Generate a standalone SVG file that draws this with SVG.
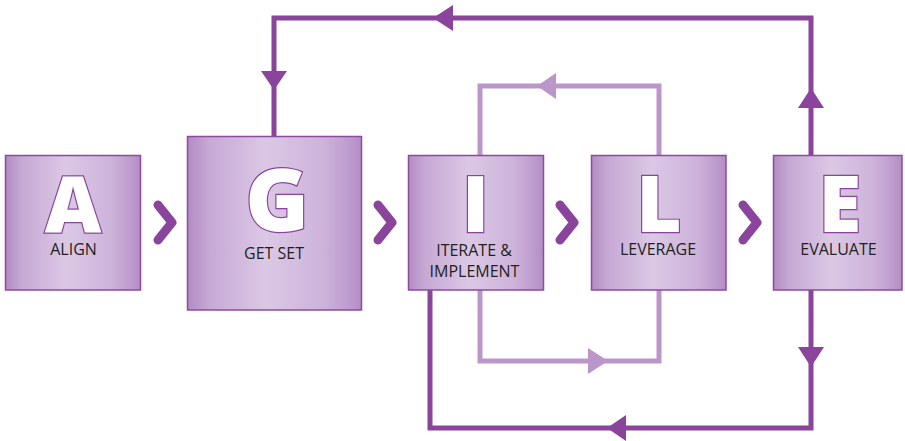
<svg xmlns="http://www.w3.org/2000/svg" width="905" height="441" viewBox="0 0 905 441">
  <defs>
    <linearGradient id="boxFill" x1="0" y1="0" x2="1" y2="0">
      <stop offset="0" stop-color="#b28bc3"/>
      <stop offset="0.12" stop-color="#c6a8d4"/>
      <stop offset="0.45" stop-color="#dbc8e5"/>
      <stop offset="0.78" stop-color="#cdb3da"/>
      <stop offset="0.94" stop-color="#bc99cc"/>
      <stop offset="1" stop-color="#b38dc5"/>
    </linearGradient>
  </defs>
  <style>
    .box { fill: url(#boxFill); stroke: #8e4a9e; stroke-width: 1.5; }
    .big { font-family: "Open Sans", "Noto Sans", sans-serif; font-weight: 800; font-size: 78px; fill: #ffffff; stroke: #8a449b; stroke-width: 2.4; paint-order: stroke; text-anchor: middle; }
    .label { font-family: "Open Sans", "Noto Sans", sans-serif; font-size: 16px; fill: #231f20; text-anchor: middle; }
    .dark { fill: none; stroke: #8a449b; stroke-width: 5; }
    .light { fill: none; stroke: #bb96c9; stroke-width: 5; }
    .darkHead { fill: #8a449b; }
    .lightHead { fill: #bb96c9; }
    .chev { fill: none; stroke: #8a449b; stroke-width: 9; stroke-linecap: round; stroke-linejoin: round; }
  </style>

  <g id="connectors">
    <!-- outer feedback loop: Evaluate back to Get Set -->
    <path class="dark" d="M811,155 V18 H274 V136"/>
    <polygon class="darkHead" points="811,88 824,108 798,108"/>
    <polygon class="darkHead" points="433,18 453,5 453,31"/>
    <polygon class="darkHead" points="274,90 261,71 287,71"/>
    <!-- lower loop: Evaluate back to Iterate -->
    <path class="dark" d="M811,290 V428 H430 V290"/>
    <polygon class="darkHead" points="811,367 798,347 824,347"/>
    <polygon class="darkHead" points="607,428 626,415 626,441"/>
    <!-- inner loop between Iterate and Leverage -->
    <path class="light" d="M480,155 V86 H659 V155"/>
    <polygon class="lightHead" points="537,86 556,73 556,99"/>
    <path class="light" d="M480,290 V361 H659 V290"/>
    <polygon class="lightHead" points="608,361 588,348 588,374"/>
    <!-- step chevrons -->
    <path class="chev" d="M158,205 L172,222.5 L158,240"/>
    <path class="chev" d="M378,205 L392,222.5 L378,240"/>
    <path class="chev" d="M560,205 L574,222.5 L560,240"/>
    <path class="chev" d="M743,205 L757,222.5 L743,240"/>
  </g>

  <g id="align">
    <rect class="box" x="5.5" y="155.5" width="135" height="134.5"/>
    <text class="big" x="73" y="232">A</text>
    <text class="label" x="73.5" y="255">ALIGN</text>
  </g>

  <g id="get-set">
    <rect class="box" x="187.5" y="136.5" width="174" height="173.5"/>
    <text class="big" x="277" y="231" style="font-size:86px">G</text>
    <text class="label" x="274" y="259">GET SET</text>
  </g>

  <g id="iterate">
    <rect class="box" x="408.5" y="155.5" width="135" height="134.5"/>
    <text class="big" x="475.5" y="232">I</text>
    <text class="label" x="474" y="256">ITERATE &amp;</text>
    <text class="label" x="474.5" y="277">IMPLEMENT</text>
  </g>

  <g id="leverage">
    <rect class="box" x="591.5" y="155.5" width="134.5" height="134.5"/>
    <text class="big" x="659" y="232">L</text>
    <text class="label" x="658" y="255">LEVERAGE</text>
  </g>

  <g id="evaluate">
    <rect class="box" x="773.5" y="155.5" width="128.5" height="134.5"/>
    <text class="big" x="840" y="232">E</text>
    <text class="label" x="838.5" y="255">EVALUATE</text>
  </g>
</svg>
